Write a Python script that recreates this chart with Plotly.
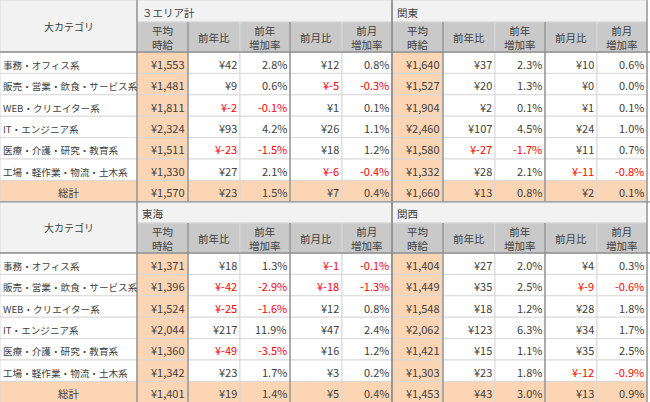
import plotly.graph_objects as go

categories = ["事務・オフィス系", "販売・営業・飲食・サービス系", "WEB・クリエイター系", "IT・エンジニア系",
              "医療・介護・研究・教育系", "工場・軽作業・物流・土木系", "総計"]
headers = ["平均<br>時給", "前年比", "前年<br>増加率", "前月比", "前月<br>増加率"]
areas = ["３エリア計", "関東", "東海", "関西"]

avg = {"３エリア計": [1553, 1481, 1811, 2324, 1511, 1330, 1570],
       "関東": [1640, 1527, 1904, 2460, 1580, 1332, 1660],
       "東海": [1371, 1396, 1524, 2044, 1360, 1342, 1401],
       "関西": [1404, 1449, 1548, 2062, 1421, 1303, 1453]}
yoy = {"３エリア計": [42, 9, -2, 93, -23, 27, 23],
       "関東": [37, 20, 2, 107, -27, 28, 13],
       "東海": [18, -42, -25, 217, -49, 23, 19],
       "関西": [27, 35, 18, 123, 15, 23, 43]}
yoy_rate = {"３エリア計": [2.8, 0.6, -0.1, 4.2, -1.5, 2.1, 1.5],
            "関東": [2.3, 1.3, 0.1, 4.5, -1.7, 2.1, 0.8],
            "東海": [1.3, -2.9, -1.6, 11.9, -3.5, 1.7, 1.4],
            "関西": [2.0, 2.5, 1.2, 6.3, 1.1, 1.8, 3.0]}
mom = {"３エリア計": [12, -5, 1, 26, 18, -6, 7],
       "関東": [10, 0, 1, 24, 11, -11, 2],
       "東海": [-1, -18, 12, 47, 16, 3, 5],
       "関西": [4, -9, 28, 34, 35, -12, 13]}
mom_rate = {"３エリア計": [0.8, -0.3, 0.1, 1.1, 1.2, -0.4, 0.4],
            "関東": [0.6, 0.0, 0.1, 1.0, 0.7, -0.8, 0.1],
            "東海": [-0.1, -1.3, 0.8, 2.4, 1.2, 0.2, 0.4],
            "関西": [0.3, -0.6, 1.8, 1.7, 2.5, -0.9, 0.9]}

PEACH = "#fcd5b4"
GRAY = "#c9c9c9"
LIGHT = "#f2f2f2"
TXT = "#404040"
RED = "#ff0000"
GRID = "#d9d9d9"
DARK = "#8c8c8c"
FONT = "Noto Sans CJK JP"

fig = go.Figure()
fig.add_trace(go.Scatter(x=[0, 650], y=[0, 402], mode="markers", marker=dict(opacity=0), hoverinfo="skip"))
shapes, ann = [], []

cat_w = 137
col_w = [51, 52, 50, 52, 50]
block_x = [137, 392]
title_h, head_h, row_h = 22, 30, 21.4
block_y = [0, 201]

def rect(x0, y0, x1, y1, fill, line=GRID, lw=1):
    shapes.append(dict(type="rect", x0=x0, y0=y0, x1=x1, y1=y1, fillcolor=fill,
                       line=dict(color=line, width=lw), layer="below"))

def text(x, y, s, anchor, color=TXT, size=11):
    ann.append(dict(x=x, y=y, text=s, showarrow=False, xanchor=anchor, yanchor="middle",
                    font=dict(family=FONT, size=size, color=color)))

for bi, by in enumerate(block_y):
    rect(0, by, cat_w, by + title_h + head_h, LIGHT)
    text(cat_w / 2, by + (title_h + head_h) / 2, "大カテゴリ", "center", size=10)
    for r, cat in enumerate(categories):
        y0 = by + title_h + head_h + r * row_h
        tot = r == len(categories) - 1
        rect(0, y0, cat_w, y0 + row_h, PEACH if tot else "white")
        if tot:
            text(cat_w / 2, y0 + row_h / 2 + 1, cat, "center", size=10.5)
        else:
            text(1, y0 + row_h / 2 + 2, cat, "left", size=9.6)
    for k in range(2):
        area = areas[bi * 2 + k]
        bx = block_x[k]
        bw = sum(col_w)
        rect(bx, by, bx + bw, by + title_h, LIGHT)
        text(bx + 3, by + title_h / 2 + 1, area, "left", size=10.5)
        cx = bx
        cols = [
            [f"¥{v:,}" for v in avg[area]],
            [f"¥{v}" for v in yoy[area]],
            [f"{v:.1f}%" for v in yoy_rate[area]],
            [f"¥{v}" for v in mom[area]],
            [f"{v:.1f}%" for v in mom_rate[area]],
        ]
        signs = [avg[area], yoy[area], yoy_rate[area], mom[area], mom_rate[area]]
        for c in range(5):
            w = col_w[c]
            rect(cx, by + title_h, cx + w, by + title_h + head_h, GRAY)
            text(cx + w / 2, by + title_h + head_h / 2, headers[c], "center", size=10.5)
            for r in range(len(categories)):
                y0 = by + title_h + head_h + r * row_h
                tot = r == len(categories) - 1
                fill = PEACH if (c == 0 or tot) else "white"
                rect(cx, y0, cx + w, y0 + row_h, fill)
                col = RED if signs[c][r] < 0 else TXT
                text(cx + w - 1, y0 + row_h / 2 + 1, cols[c][r], "right", color=col, size=11)
            cx += w
        for xs in [bx, bx + col_w[0], bx + sum(col_w[:3]), bx + bw]:
            shapes.append(dict(type="line", x0=xs, x1=xs, y0=by + title_h if xs not in (bx, bx + bw) else by,
                               y1=by + title_h + head_h + 7 * row_h, line=dict(color=DARK, width=1.3)))
    shapes.append(dict(type="line", x0=0, x1=650, y0=by + title_h + head_h, y1=by + title_h + head_h,
                       line=dict(color=DARK, width=1.3)))
    shapes.append(dict(type="line", x0=0, x1=650, y0=by + title_h + head_h + 7 * row_h,
                       y1=by + title_h + head_h + 7 * row_h, line=dict(color=DARK, width=1.3)))

fig.update_layout(width=650, height=402, margin=dict(l=0, r=0, t=0, b=0),
                  paper_bgcolor="white", plot_bgcolor="white", showlegend=False,
                  shapes=shapes, annotations=ann,
                  xaxis=dict(range=[0, 650], visible=False, fixedrange=True),
                  yaxis=dict(range=[402, 0], visible=False, fixedrange=True))
fig.write_html("out.html", config={"displayModeBar": False},
               post_script="document.body.style.margin='0';document.body.style.overflow='hidden';")
